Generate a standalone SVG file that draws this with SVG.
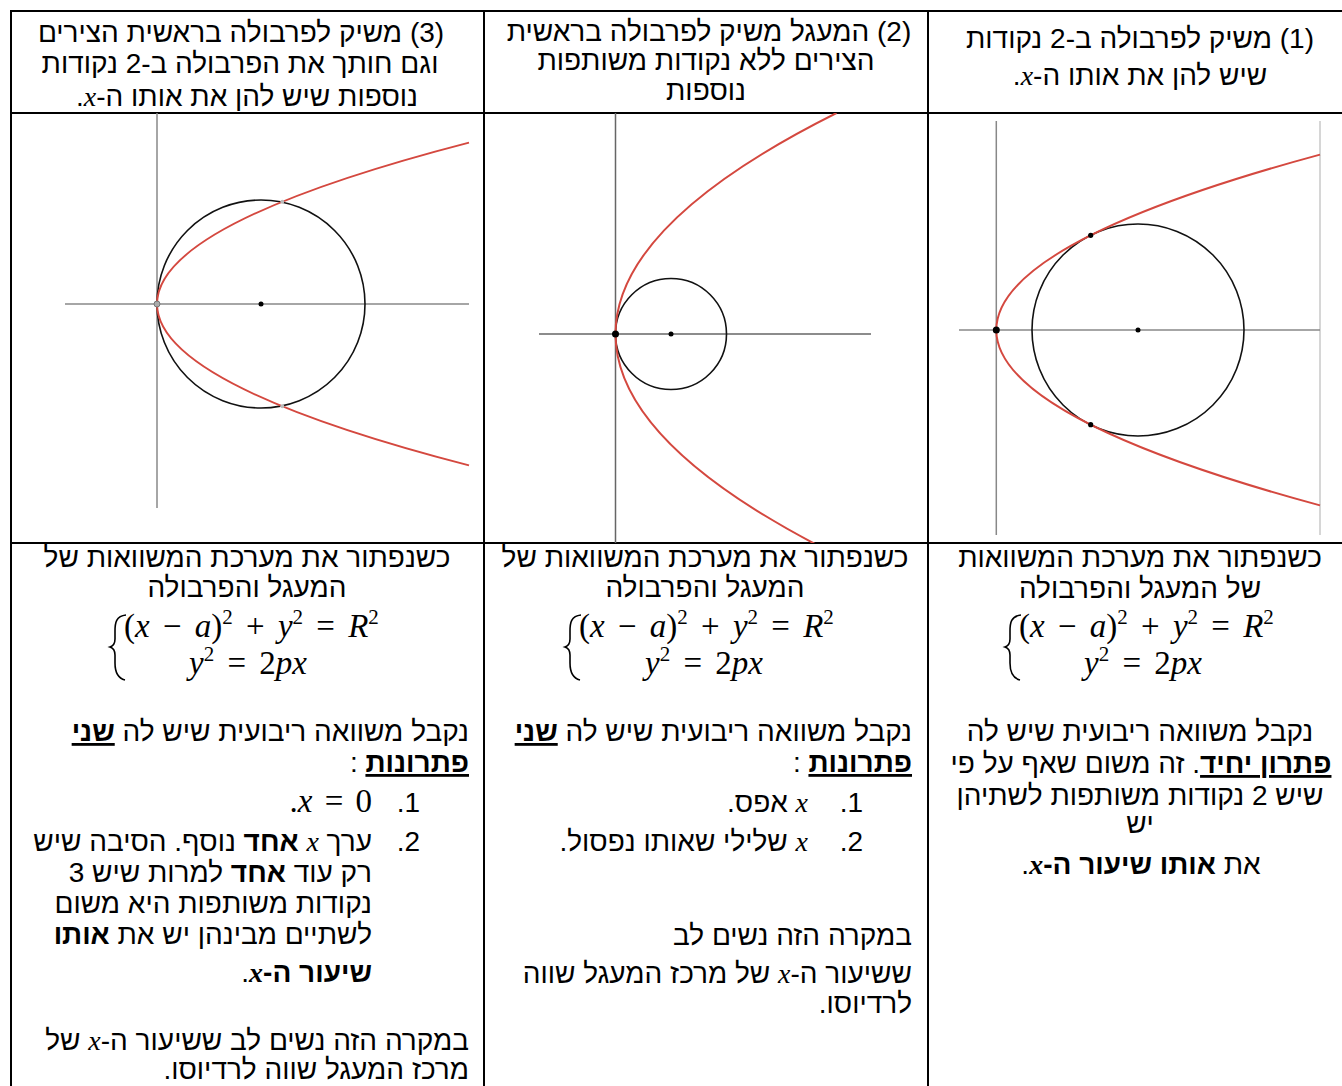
<svg xmlns="http://www.w3.org/2000/svg" width="1342" height="1086" viewBox="0 0 1342 1086">
<style>
.he{font-family:"Liberation Sans","DejaVu Sans",sans-serif;font-size:28px;fill:#000;direction:rtl;unicode-bidi:embed}
.c{text-anchor:middle}
.r{text-anchor:start}
.b{font-weight:bold}
.u{text-decoration:underline}
.mx{font-family:"Liberation Serif","DejaVu Serif",serif;font-style:italic}
.m{font-family:"Liberation Serif","DejaVu Serif",serif;font-size:33px;fill:#000;direction:ltr;word-spacing:5px}
.i{font-style:italic}
.sup{font-size:21px}
.grid{stroke:#000;stroke-width:2;fill:none}
.ax{stroke:#888;stroke-width:1.5;fill:none}
.ax2{stroke:#666;stroke-width:1.5;fill:none}
.circ{stroke:#111;stroke-width:1.6;fill:none}
.par{stroke:#d4483f;stroke-width:2;fill:none}
.brace{stroke:#000;stroke-width:1.6;fill:none}
</style>
<defs>
<path id="brace" class="brace" d="M16,0 C6,1 5,8 5,16 L5,24 C5,29 3,31 0,32 C3,33 5,35 5,40 L5,48 C5,56 7,63 15,65"/>
<clipPath id="clip2"><rect x="485" y="113" width="442" height="430"/></clipPath>
</defs>

<g id="table">
<line class="grid" x1="10" y1="11" x2="1342" y2="11"/>
<line class="grid" x1="10" y1="113" x2="1342" y2="113"/>
<line class="grid" x1="10" y1="543" x2="1342" y2="543"/>
<line class="grid" x1="11" y1="10" x2="11" y2="1086"/>
<line class="grid" x1="484" y1="10" x2="484" y2="1086"/>
<line class="grid" x1="928" y1="10" x2="928" y2="1086"/>
</g>

<g id="header-1">
<text class="he c" x="1140" y="48">(1) משיק לפרבולה ב-2 נקודות</text>
<text class="he c" x="1140" y="85">שיש להן את אותו ה-<tspan class="mx">x</tspan>.</text>
</g>
<g id="header-2">
<text class="he c" x="709" y="41">(2) המעגל משיק לפרבולה בראשית</text>
<text class="he c" x="706" y="70">הצירים ללא נקודות משותפות</text>
<text class="he c" x="706" y="100">נוספות</text>
</g>
<g id="header-3">
<text class="he c" x="241" y="42">(3) משיק לפרבולה בראשית הצירים</text>
<text class="he c" x="240" y="73">וגם חותך את הפרבולה ב-2 נקודות</text>
<text class="he c" x="247" y="106">נוספות שיש להן את אותו ה-<tspan class="mx">x</tspan>.</text>
</g>

<g id="graph-1">
<line class="ax" x1="996.3" y1="121" x2="996.3" y2="535"/>
<line stroke="#bbb" stroke-width="1.2" x1="1320" y1="121" x2="1320" y2="535"/>
<line class="ax" x1="959" y1="330" x2="1320" y2="330"/>
<circle class="circ" cx="1138" cy="330" r="106"/>
<path class="par" d="M1320,154.6 Q672.6,330 1320,505.4"/>
<circle cx="996.3" cy="330" r="3.5" fill="#000"/>
<circle cx="1138" cy="330" r="2.5" fill="#000"/>
<circle cx="1090.7" cy="235.3" r="2.6" fill="#000"/>
<circle cx="1090.7" cy="424.7" r="2.6" fill="#000"/>
</g>

<g id="graph-2">
<line class="ax2" x1="615.5" y1="113" x2="615.5" y2="543"/>
<line class="ax2" x1="539" y1="334" x2="871" y2="334"/>
<circle class="circ" cx="671" cy="334" r="55.5"/>
<path class="par" clip-path="url(#clip2)" d="M836.5,113 Q394.5,334 836.5,555"/>
<circle cx="615.5" cy="334" r="3.5" fill="#000"/>
<circle cx="671" cy="334" r="2.5" fill="#000"/>
</g>

<g id="graph-3">
<line class="ax" x1="157" y1="113" x2="157" y2="508"/>
<line class="ax" x1="65" y1="304" x2="469" y2="304"/>
<circle class="circ" cx="261" cy="304" r="104"/>
<path class="par" d="M469,142.6 Q-155,304 469,465.4"/>
<circle cx="157" cy="304" r="3" fill="#aaa" stroke="#777" stroke-width="1"/>
<circle cx="261" cy="304" r="2.5" fill="#000"/>
<circle cx="282.3" cy="201.7" r="2" fill="#bbb"/>
<circle cx="282.3" cy="406.3" r="2" fill="#bbb"/>
</g>

<g id="body-1">
<text class="he c" x="1140" y="567">כשנפתור את מערכת המשוואות</text>
<text class="he c" x="1140" y="598">של המעגל והפרבולה</text>
<use href="#brace" x="1005" y="615"/>
<text class="m" x="1019" y="637">(<tspan class="i">x</tspan> − <tspan class="i">a</tspan>)<tspan class="sup" dy="-13">2</tspan><tspan dy="13"> + </tspan><tspan class="i">y</tspan><tspan class="sup" dy="-13">2</tspan><tspan dy="13"> = </tspan><tspan class="i">R</tspan><tspan class="sup" dy="-13">2</tspan></text>
<text class="m" x="1084" y="674"><tspan class="i">y</tspan><tspan class="sup" dy="-13">2</tspan><tspan dy="13"> = 2</tspan><tspan class="i">px</tspan></text>
<text class="he c" x="1140" y="741">נקבל משוואה ריבועית שיש לה</text>
<text class="he c" x="1141" y="773"><tspan class="b u">פתרון יחיד</tspan>. זה משום שאף על פי</text>
<text class="he c" x="1140" y="805">שיש 2 נקודות משותפות לשתיהן</text>
<text class="he c" x="1140" y="833">יש</text>
<text class="he c" x="1141" y="874">את <tspan class="b">אותו שיעור ה-</tspan><tspan class="mx b">x</tspan>.</text>
</g>

<g id="body-2">
<text class="he c" x="705" y="567">כשנפתור את מערכת המשוואות של</text>
<text class="he c" x="705" y="597">המעגל והפרבולה</text>
<use href="#brace" x="565" y="615"/>
<text class="m" x="579" y="637">(<tspan class="i">x</tspan> − <tspan class="i">a</tspan>)<tspan class="sup" dy="-13">2</tspan><tspan dy="13"> + </tspan><tspan class="i">y</tspan><tspan class="sup" dy="-13">2</tspan><tspan dy="13"> = </tspan><tspan class="i">R</tspan><tspan class="sup" dy="-13">2</tspan></text>
<text class="m" x="645" y="674"><tspan class="i">y</tspan><tspan class="sup" dy="-13">2</tspan><tspan dy="13"> = 2</tspan><tspan class="i">px</tspan></text>
<text class="he r" x="912" y="741">נקבל משוואה ריבועית שיש לה <tspan class="b u">שני</tspan></text>
<text class="he r" x="912" y="772"><tspan class="b u">פתרונות</tspan> :</text>
<text class="he r" x="863" y="812">1.</text>
<text class="he r" x="808" y="812"><tspan class="mx">x</tspan> אפס.</text>
<text class="he r" x="863" y="851">2.</text>
<text class="he r" x="808" y="851"><tspan class="mx">x</tspan> שלילי שאותו נפסול.</text>
<text class="he r" x="912" y="945">במקרה הזה נשים לב</text>
<text class="he r" x="912" y="983">ששיעור ה-<tspan class="mx">x</tspan> של מרכז המעגל שווה</text>
<text class="he r" x="912" y="1013">לרדיוסו.</text>
</g>

<g id="body-3">
<text class="he c" x="247" y="567">כשנפתור את מערכת המשוואות של</text>
<text class="he c" x="247" y="597">המעגל והפרבולה</text>
<use href="#brace" x="110" y="615"/>
<text class="m" x="124" y="637">(<tspan class="i">x</tspan> − <tspan class="i">a</tspan>)<tspan class="sup" dy="-13">2</tspan><tspan dy="13"> + </tspan><tspan class="i">y</tspan><tspan class="sup" dy="-13">2</tspan><tspan dy="13"> = </tspan><tspan class="i">R</tspan><tspan class="sup" dy="-13">2</tspan></text>
<text class="m" x="189" y="674"><tspan class="i">y</tspan><tspan class="sup" dy="-13">2</tspan><tspan dy="13"> = 2</tspan><tspan class="i">px</tspan></text>
<text class="he r" x="469" y="741">נקבל משוואה ריבועית שיש לה <tspan class="b u">שני</tspan></text>
<text class="he r" x="469" y="772"><tspan class="b u">פתרונות</tspan> :</text>
<text class="he r" x="420" y="812">1.</text>
<text class="m" x="372" y="812" style="text-anchor:end;word-spacing:4px">.<tspan class="i">x</tspan> = 0</text>
<text class="he r" x="420" y="851">2.</text>
<text class="he r" x="372" y="851">ערך <tspan class="mx">x</tspan> <tspan class="b">אחד</tspan> נוסף. הסיבה שיש</text>
<text class="he r" x="372" y="882">רק עוד <tspan class="b">אחד</tspan> למרות שיש 3</text>
<text class="he r" x="372" y="913">נקודות משותפות היא משום</text>
<text class="he r" x="372" y="944">לשתיים מבינהן יש את <tspan class="b">אותו</tspan></text>
<text class="he r" x="372" y="982"><tspan class="b">שיעור ה-</tspan><tspan class="mx b">x</tspan>.</text>
<text class="he r" x="469" y="1050">במקרה הזה נשים לב ששיעור ה-<tspan class="mx">x</tspan> של</text>
<text class="he r" x="469" y="1079">מרכז המעגל שווה לרדיוסו.</text>
</g>
</svg>
